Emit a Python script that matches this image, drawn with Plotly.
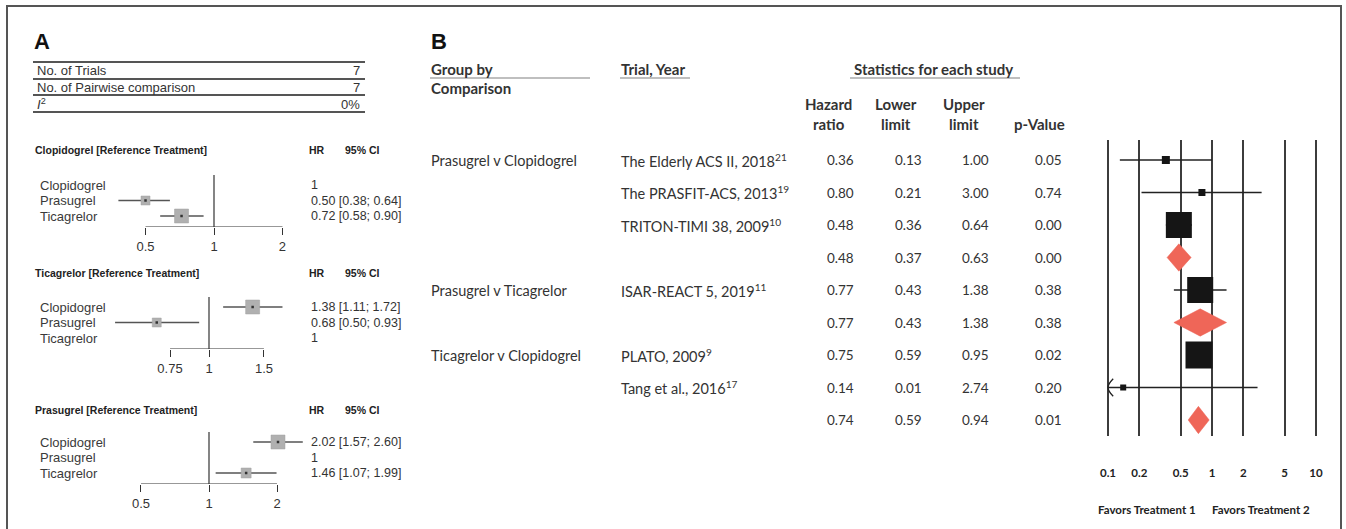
import plotly.graph_objects as go

W, H = 1346, 529

# ---------------- Panel A: network meta-analysis ----------------
summary_labels = ["No. of Trials", "No. of Pairwise comparison", "<i>I</i><sup>2</sup>"]
summary_values = ["7", "7", "0%"]

treatments = ["Clopidogrel", "Prasugrel", "Ticagrelor"]

clop_ref_hr = [1.0, 0.50, 0.72]
clop_ref_lo = [None, 0.38, 0.58]
clop_ref_hi = [None, 0.64, 0.90]
clop_ref_ticks = [0.5, 1, 2]
clop_ref_ticktext = ["0.5", "1", "2"]

tica_ref_hr = [1.38, 0.68, 1.0]
tica_ref_lo = [1.11, 0.50, None]
tica_ref_hi = [1.72, 0.93, None]
tica_ref_ticks = [0.75, 1, 1.5]
tica_ref_ticktext = ["0.75", "1", "1.5"]

pras_ref_hr = [2.02, 1.0, 1.46]
pras_ref_lo = [1.57, None, 1.07]
pras_ref_hi = [2.60, None, 1.99]
pras_ref_ticks = [0.5, 1, 2]
pras_ref_ticktext = ["0.5", "1", "2"]

# ---------------- Panel B: pairwise meta-analysis ----------------
group_labels = ["Prasugrel v Clopidogrel", "", "", "", "Prasugrel v Ticagrelor", "",
                "Ticagrelor v Clopidogrel", "", ""]
trial_labels = ["The Elderly ACS II, 2018<sup>21</sup>", "The PRASFIT-ACS, 2013<sup>19</sup>",
                "TRITON-TIMI 38, 2009<sup>10</sup>", "", "ISAR-REACT 5, 2019<sup>11</sup>", "",
                "PLATO, 2009<sup>9</sup>", "Tang et al., 2016<sup>17</sup>", ""]
hazard_ratio = [0.36, 0.80, 0.48, 0.48, 0.77, 0.77, 0.75, 0.14, 0.74]
lower_limit = [0.13, 0.21, 0.36, 0.37, 0.43, 0.43, 0.59, 0.01, 0.59]
upper_limit = [1.00, 3.00, 0.64, 0.63, 1.38, 1.38, 0.95, 2.74, 0.94]
p_value = [0.05, 0.74, 0.00, 0.00, 0.38, 0.38, 0.02, 0.20, 0.01]
pooled = [False, False, False, True, False, True, False, False, True]
forest_ticks = [0.1, 0.2, 0.5, 1, 2, 5, 10]
forest_ticktext = ["0.1", "0.2", "0.5", "1", "2", "5", "10"]


def px(x):
    return x / W


def py(y):
    return 1 - y / H


ARIAL = "Liberation Sans, Arial, sans-serif"
LATO = "Lato, Open Sans, sans-serif"

fig = go.Figure()
annotations = []
shapes = []


def ann(text, x, y, yref="paper", xanchor="left", size=12, family=ARIAL,
        color="#333", yanchor="middle"):
    annotations.append(dict(text=text, x=x, y=y, xref="paper", yref=yref,
                            xanchor=xanchor, yanchor=yanchor, showarrow=False,
                            font=dict(family=family, size=size, color=color)))


# outer frame
shapes.append(dict(type="rect", xref="paper", yref="paper", x0=px(7), x1=px(1341),
                   y0=py(545), y1=py(6), line=dict(color="#555", width=2)))

# ---- Panel A heading and summary table ----
ann("<b>A</b>", px(32), py(42), size=22, color="#111")
for ly in [62, 79, 95, 112]:
    shapes.append(dict(type="line", xref="paper", yref="paper", x0=px(33), x1=px(365),
                       y0=py(ly), y1=py(ly), line=dict(color="#555", width=2)))
for i, (lab, val) in enumerate(zip(summary_labels, summary_values)):
    yy = py(71 + i * 16.5)
    ann(lab, px(35), yy, size=13, color="#333")
    ann(val, px(362), yy, xanchor="right", size=13, color="#333")

# ---- Panel A forests ----
blocks = [
    dict(title="Clopidogrel [Reference Treatment]", hr=clop_ref_hr, lo=clop_ref_lo,
         hi=clop_ref_hi, ticks=clop_ref_ticks, ticktext=clop_ref_ticktext,
         row1=185, one=214, per_dec=227.5, dom=(95, 305), head=150,
         sizes=[0, 9, 14]),
    dict(title="Ticagrelor [Reference Treatment]", hr=tica_ref_hr, lo=tica_ref_lo,
         hi=tica_ref_hi, ticks=tica_ref_ticks, ticktext=tica_ref_ticktext,
         row1=307, one=209, per_dec=312, dom=(95, 305), head=273,
         sizes=[14, 9, 0]),
    dict(title="Prasugrel [Reference Treatment]", hr=pras_ref_hr, lo=pras_ref_lo,
         hi=pras_ref_hi, ticks=pras_ref_ticks, ticktext=pras_ref_ticktext,
         row1=442, one=209, per_dec=226, dom=(95, 315), head=410,
         sizes=[14, 0, 10]),
]

ROW_A = 15.5
layout_axes = {}
for k, b in enumerate(blocks):
    n = k + 2
    xa, ya = f"x{n}", f"y{n}"
    bottom_px = b["row1"] + 2 * ROW_A + 11
    top_px = b["row1"] - 13
    r_bottom = 1 + (bottom_px - b["row1"]) / ROW_A
    r_top = 1 + (top_px - b["row1"]) / ROW_A
    x0d, x1d = b["dom"]
    layout_axes[f"xaxis{n}"] = dict(
        type="log", domain=[px(x0d), px(x1d)], anchor=ya,
        range=[(x0d - b["one"]) / b["per_dec"], (x1d - b["one"]) / b["per_dec"]],
        tickvals=b["ticks"], ticktext=b["ticktext"], ticks="outside", ticklen=7,
        tickwidth=1.2, tickcolor="#333", showline=False, showgrid=False,
        zeroline=False, tickfont=dict(family=ARIAL, size=13, color="#333"),
        fixedrange=True)
    layout_axes[f"yaxis{n}"] = dict(
        domain=[py(bottom_px), py(top_px)], anchor=xa, range=[r_bottom, r_top],
        visible=False, fixedrange=True)

    # line of no effect
    fig.add_trace(go.Scatter(x=[1, 1], y=[0.35, r_bottom], mode="lines",
                             line=dict(color="#333", width=1.2), xaxis=xa, yaxis=ya,
                             hoverinfo="skip"))
    # axis bracket between outer ticks
    fig.add_trace(go.Scatter(x=[b["ticks"][0], b["ticks"][-1]], y=[r_bottom, r_bottom],
                             mode="lines", line=dict(color="#333", width=1.2),
                             xaxis=xa, yaxis=ya, hoverinfo="skip"))
    cx, cy, mx, my, ms = [], [], [], [], []
    for i, (h, lo, hi) in enumerate(zip(b["hr"], b["lo"], b["hi"])):
        r = i + 1
        if lo is None:
            continue
        cx += [lo, hi, None]
        cy += [r, r, None]
        mx.append(h)
        my.append(r)
        ms.append(b["sizes"][i])
    fig.add_trace(go.Scatter(x=cx, y=cy, mode="lines", line=dict(color="#555", width=1.3),
                             xaxis=xa, yaxis=ya, hoverinfo="skip"))
    fig.add_trace(go.Scatter(x=mx, y=my, mode="markers",
                             marker=dict(symbol="square", size=ms, color="#b0b0b0",
                                         opacity=1,
                                         line=dict(color="#a0a0a0", width=0.5)),
                             xaxis=xa, yaxis=ya, hoverinfo="skip"))
    fig.add_trace(go.Scatter(x=mx, y=my, mode="markers",
                             marker=dict(symbol="square", size=2.5, color="#333",
                                         opacity=1),
                             xaxis=xa, yaxis=ya, hoverinfo="skip"))

    # headings
    ann("<b>" + b["title"] + "</b>", px(33), py(b["head"]), size=10.5, color="#222")
    ann("<b>HR</b>", px(307), py(b["head"]), size=10.5, color="#222")
    ann("<b>95% CI</b>", px(343), py(b["head"]), size=10.5, color="#222")
    # rows
    for i, (t, h, lo, hi) in enumerate(zip(treatments, b["hr"], b["lo"], b["hi"])):
        r = i + 1
        ann(t, px(38), r, yref=ya, size=13, color="#3a3a3a")
        if lo is None:
            txt = "1"
        else:
            txt = f"{h:.2f} [{lo:.2f}; {hi:.2f}]"
        ann(txt, px(309), r, yref=ya, size=12.5, color="#333")

# ---- Panel B headers ----
HEAD = 15
ann("<b>B</b>", px(429), py(42), size=22, color="#111")
ann("<b>Group by</b>", px(429), py(69), size=HEAD, family=LATO, color="#333")
ann("<b>Comparison</b>", px(429), py(88), size=HEAD, family=LATO, color="#333")
ann("<b>Trial, Year</b>", px(619), py(69), size=HEAD, family=LATO, color="#333")
ann("<b>Statistics for each study</b>", px(933), py(69), xanchor="center", size=HEAD,
    family=LATO, color="#333")
for x0u, x1u in [(430, 590), (620, 690), (850, 1020)]:
    shapes.append(dict(type="line", xref="paper", yref="paper", x0=px(x0u), x1=px(x1u),
                       y0=py(78), y1=py(78), line=dict(color="#aaa", width=1.5)))
col_heads = [("Hazard<br>ratio", 828), ("Lower<br>limit", 896), ("Upper<br>limit", 964)]
for t, cxp in col_heads:
    ann("<b>" + t + "</b>", px(cxp), py(114), xanchor="center", size=HEAD, family=LATO,
        color="#333")
ann("<b>p-Value</b>", px(1039), py(124), xanchor="center", size=HEAD, family=LATO,
    color="#333")

# ---- Panel B rows ----
ROW_B = 32.5
for i in range(len(hazard_ratio)):
    r = i + 1
    if group_labels[i]:
        ann(group_labels[i], px(429), r, yref="y", size=14.5, family=LATO, color="#333")
    if trial_labels[i]:
        ann(trial_labels[i], px(619), r, yref="y", size=14.5, family=LATO, color="#333")
    for val, cxp in zip([hazard_ratio[i], lower_limit[i], upper_limit[i], p_value[i]],
                        [840, 908, 975, 1048]):
        ann(f"{val:.2f}", px(cxp), r, yref="y", xanchor="center", size=13.5, family=LATO,
            color="#333")

# ---- Panel B forest ----
xmin_dec, xmax_dec = -1.1, 1.1
f_left = 1212 + xmin_dec * 104
f_right = 1212 + xmax_dec * 104
f_top, f_bottom = 140, 436
r_top_b = 1 + (f_top - 160) / ROW_B
r_bot_b = 1 + (f_bottom - 160) / ROW_B
axis_min = forest_ticks[0]

layout_axes["xaxis"] = dict(
    type="log", domain=[px(f_left), px(f_right)], anchor="y",
    range=[xmin_dec, xmax_dec], tickvals=forest_ticks,
    ticktext=["<b>" + t + "</b>" for t in forest_ticktext], ticks="",
    showgrid=True, gridcolor="#3c3c3c", gridwidth=1.6, showline=False, zeroline=False,
    tickfont=dict(family=LATO, size=11.5, color="#222"), ticklabelstandoff=28,
    fixedrange=True)
layout_axes["yaxis"] = dict(domain=[py(f_bottom), py(f_top)], anchor="x",
                            range=[r_bot_b, r_top_b], visible=False, fixedrange=True)

ci_x, ci_y = [], []
sq_x, sq_y, sq_s = [], [], []
box_size = [8, 7, 26, 0, 26, 0, 27, 6, 0]
for i in range(len(hazard_ratio)):
    r = i + 1
    if pooled[i]:
        dh = 0.42
        fig.add_trace(go.Scatter(
            x=[lower_limit[i], hazard_ratio[i], upper_limit[i], hazard_ratio[i],
               lower_limit[i]],
            y=[r, r - dh, r, r + dh, r], mode="lines", fill="toself",
            fillcolor="#ef6658", line=dict(color="#ef6658", width=0.5),
            hoverinfo="skip"))
        continue
    lo = max(lower_limit[i], axis_min)
    ci_x += [lo, upper_limit[i], None]
    ci_y += [r, r, None]
    sq_x.append(hazard_ratio[i])
    sq_y.append(r)
    sq_s.append(box_size[i])
    if lower_limit[i] < axis_min:
        # truncated interval marker at the axis limit
        fig.add_trace(go.Scatter(
            x=[axis_min * 10 ** 0.05, axis_min * 10 ** 0.012, axis_min,
               axis_min * 10 ** 0.012, axis_min * 10 ** 0.05],
            y=[r - 0.27, r - 0.12, r, r + 0.12, r + 0.27], mode="lines",
            line=dict(color="#222", width=1.3, shape="spline"), hoverinfo="skip"))

fig.add_trace(go.Scatter(x=ci_x, y=ci_y, mode="lines", line=dict(color="#222", width=1.6),
                         hoverinfo="skip"))
fig.add_trace(go.Scatter(x=sq_x, y=sq_y, mode="markers",
                         marker=dict(symbol="square", size=sq_s, color="#151515",
                                     opacity=1, line=dict(width=0)),
                         hoverinfo="skip"))

ann("<b>Favors Treatment 1</b>", px(1147), py(509), xanchor="center", size=11.5,
    family=LATO, color="#222")
ann("<b>Favors Treatment 2</b>", px(1261), py(509), xanchor="center", size=11.5,
    family=LATO, color="#222")

fig.update_layout(
    width=W, height=H, margin=dict(l=0, r=0, t=0, b=0),
    paper_bgcolor="white", plot_bgcolor="rgba(0,0,0,0)", showlegend=False,
    annotations=annotations, shapes=shapes, **layout_axes)

fig.write_html("out.html")
